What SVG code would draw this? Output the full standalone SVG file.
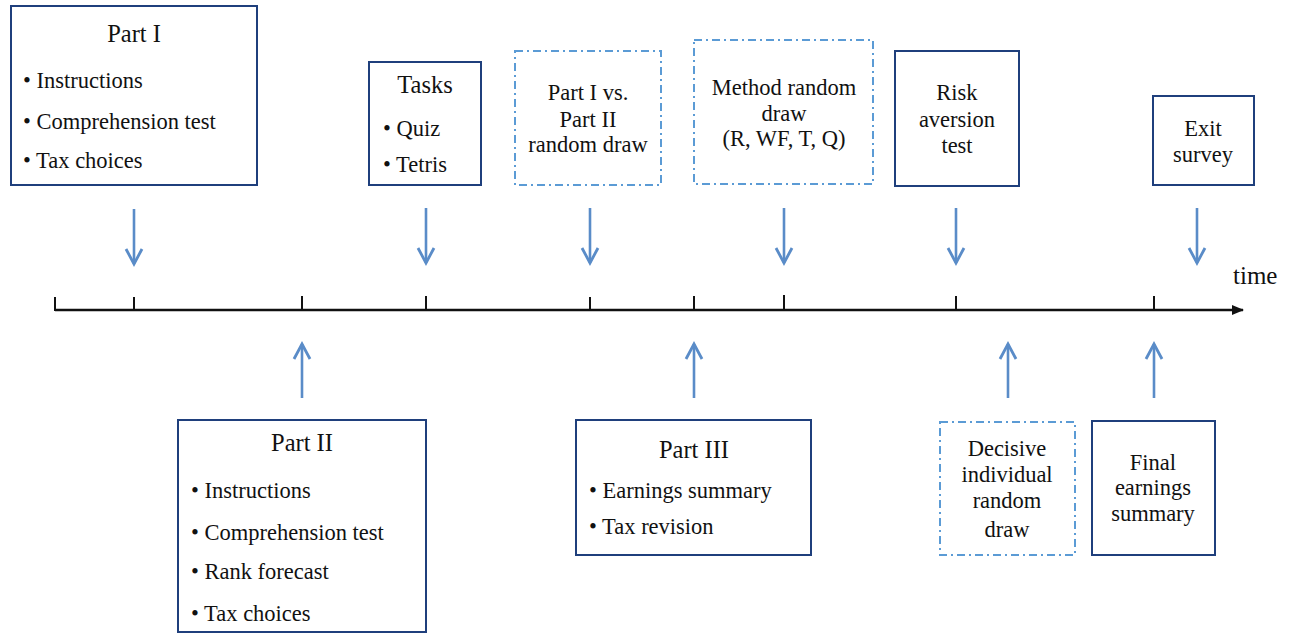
<svg xmlns="http://www.w3.org/2000/svg" width="1294" height="635" viewBox="0 0 1294 635">
<style>
  text { font-family: "Liberation Serif", "Times New Roman", serif; font-size: 22.5px; fill: #111; }
  .c { text-anchor: middle; }
  .t { font-size: 24.5px; }
  .box { fill: #fff; stroke: #1f3f7c; stroke-width: 2; }
  .dbox { fill: #fff; stroke: #5b9bd5; stroke-width: 2; stroke-dasharray: 8 4 2 4; }
  .arr { stroke: #5a8cc8; stroke-width: 2.6; fill: none; }
  .tick { stroke: #111; stroke-width: 2; }
</style>
<defs>
  <marker id="open" viewBox="0 0 20 20" refX="17" refY="10" markerWidth="20" markerHeight="20" markerUnits="userSpaceOnUse" orient="auto">
    <path d="M2,2 L17,10 L2,18" fill="none" stroke="#5a8cc8" stroke-width="2.8" stroke-linejoin="miter"/>
  </marker>
  <marker id="tri" viewBox="0 0 12 12" refX="11" refY="6" markerWidth="12" markerHeight="12" markerUnits="userSpaceOnUse" orient="auto">
    <path d="M0,1 L12,6 L0,11 Z" fill="#111"/>
  </marker>
</defs>

<g id="timeline">
  <line x1="55" y1="310" x2="1243" y2="310" stroke="#111" stroke-width="2.5" marker-end="url(#tri)"/>
  <line class="tick" x1="55" y1="297" x2="55" y2="311"/>
  <line class="tick" x1="134" y1="297" x2="134" y2="310"/>
  <line class="tick" x1="302" y1="296" x2="302" y2="310"/>
  <line class="tick" x1="426" y1="296" x2="426" y2="310"/>
  <line class="tick" x1="590" y1="297" x2="590" y2="310"/>
  <line class="tick" x1="694" y1="296" x2="694" y2="310"/>
  <line class="tick" x1="784" y1="295" x2="784" y2="310"/>
  <line class="tick" x1="956" y1="296" x2="956" y2="310"/>
  <line class="tick" x1="1154" y1="296" x2="1154" y2="310"/>
  <text x="1233" y="284" style="font-size:25px">time</text>
</g>

<g id="connectors">
  <line class="arr" x1="134" y1="209" x2="134" y2="264" marker-end="url(#open)"/>
  <line class="arr" x1="426" y1="208" x2="426" y2="263" marker-end="url(#open)"/>
  <line class="arr" x1="590" y1="208" x2="590" y2="263" marker-end="url(#open)"/>
  <line class="arr" x1="784" y1="208" x2="784" y2="263" marker-end="url(#open)"/>
  <line class="arr" x1="956" y1="208" x2="956" y2="263" marker-end="url(#open)"/>
  <line class="arr" x1="1197" y1="208" x2="1197" y2="263" marker-end="url(#open)"/>
  <line class="arr" x1="302" y1="398" x2="302" y2="344" marker-end="url(#open)"/>
  <line class="arr" x1="694" y1="398" x2="694" y2="344" marker-end="url(#open)"/>
  <line class="arr" x1="1008" y1="398" x2="1008" y2="344" marker-end="url(#open)"/>
  <line class="arr" x1="1154" y1="398" x2="1154" y2="344" marker-end="url(#open)"/>
</g>

<g id="part1">
  <rect class="box" x="11" y="6" width="246" height="179"/>
  <text class="c t" x="134" y="42">Part I</text>
  <text x="23" y="88">• Instructions</text>
  <text x="23" y="129">• Comprehension test</text>
  <text x="23" y="168">• Tax choices</text>
</g>

<g id="tasks">
  <rect class="box" x="369" y="62" width="112" height="123"/>
  <text class="c t" x="425" y="93">Tasks</text>
  <text x="383" y="136">• Quiz</text>
  <text x="383" y="172">• Tetris</text>
</g>

<g id="draw12">
  <rect class="dbox" x="515" y="51" width="146" height="134"/>
  <text class="c" x="588" y="100">Part I vs.</text>
  <text class="c" x="588" y="127">Part II</text>
  <text class="c" x="588" y="152">random draw</text>
</g>

<g id="methoddraw">
  <rect class="dbox" x="694" y="40" width="179" height="144"/>
  <text class="c" x="784" y="95">Method random</text>
  <text class="c" x="784" y="121">draw</text>
  <text class="c" x="784" y="146">(R, WF, T, Q)</text>
</g>

<g id="risk">
  <rect class="box" x="895" y="51" width="124" height="135"/>
  <text class="c" x="957" y="100">Risk</text>
  <text class="c" x="957" y="127">aversion</text>
  <text class="c" x="957" y="153">test</text>
</g>

<g id="exit">
  <rect class="box" x="1153" y="96" width="101" height="89"/>
  <text class="c" x="1203" y="136">Exit</text>
  <text class="c" x="1203" y="162">survey</text>
</g>

<g id="part2">
  <rect class="box" x="178" y="420" width="248" height="212"/>
  <text class="c t" x="302" y="451">Part II</text>
  <text x="191" y="498">• Instructions</text>
  <text x="191" y="540">• Comprehension test</text>
  <text x="191" y="579">• Rank forecast</text>
  <text x="191" y="621">• Tax choices</text>
</g>

<g id="part3">
  <rect class="box" x="576" y="420" width="235" height="135"/>
  <text class="c t" x="694" y="458">Part III</text>
  <text x="589" y="498">• Earnings summary</text>
  <text x="589" y="534">• Tax revision</text>
</g>

<g id="decisive">
  <rect class="dbox" x="940" y="422" width="135" height="133"/>
  <text class="c" x="1007" y="456">Decisive</text>
  <text class="c" x="1007" y="482">individual</text>
  <text class="c" x="1007" y="508">random</text>
  <text class="c" x="1007" y="537">draw</text>
</g>

<g id="final">
  <rect class="box" x="1092" y="421" width="123" height="134"/>
  <text class="c" x="1153" y="470">Final</text>
  <text class="c" x="1153" y="495">earnings</text>
  <text class="c" x="1153" y="521">summary</text>
</g>
</svg>
